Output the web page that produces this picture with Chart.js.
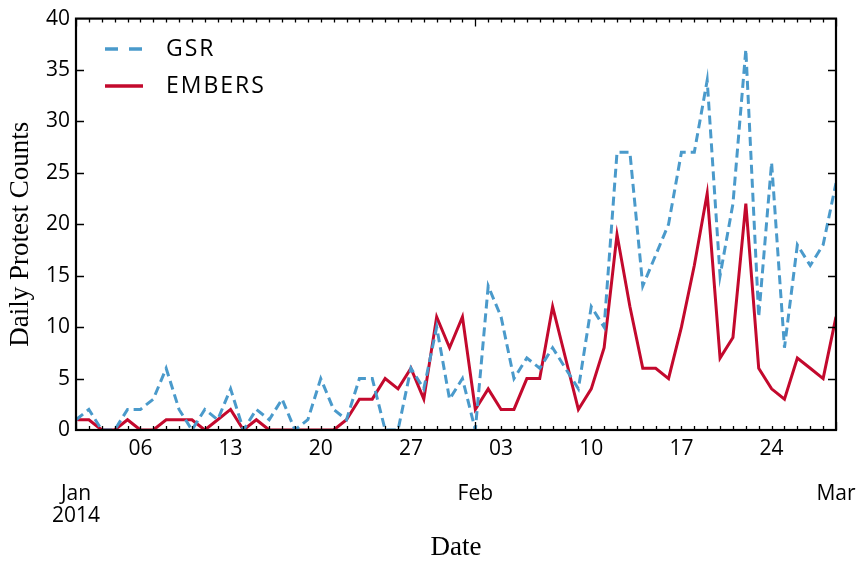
<!DOCTYPE html>
<html>
<head>
<meta charset="utf-8">
<script src="https://cdn.jsdelivr.net/npm/chart.js@4.4.1/dist/chart.umd.min.js"></script>
<style>
  html, body { margin: 0; padding: 0; background: #fff; }
  #wrap { width: 858px; height: 563px; position: relative; }
</style>
</head>
<body>
<div id="wrap"><canvas id="protestChart"></canvas></div>
<script>
// Daily protest counts, 1 Jan 2014 .. 1 Mar 2014 (one value per day)
const gsrCounts = [
  1, 2, 0, 0, 2, 2, 3, 6, 2, 0,
  2, 1, 4, 0, 2, 1, 3, 0, 1, 5,
  2, 1, 5, 5, 0, 0, 6, 4, 10, 3,
  5, 0, 14, 11, 5, 7, 6, 8, 6, 4,
  12, 10, 27, 27, 14, 17, 20, 27, 27, 34,
  15, 22, 37, 11, 26, 8, 18, 16, 18, 24
];
const embersCounts = [
  1, 1, 0, 0, 1, 0, 0, 1, 1, 1,
  0, 1, 2, 0, 1, 0, 0, 0, 0, 0,
  0, 1, 3, 3, 5, 4, 6, 3, 11, 8,
  11, 2, 4, 2, 2, 5, 5, 12, 7, 2,
  4, 8, 19, 12, 6, 6, 5, 10, 16, 23,
  7, 9, 22, 6, 4, 3, 7, 6, 5, 11
];
// day index (0 = Jan 1) for each value
const dayIndex = gsrCounts.map((_, i) => i);

// weekly tick labels (Mondays) and month labels
const weekTickDays = [5, 12, 19, 26, 33, 40, 47, 54];
const weekTickLabels = ['06', '13', '20', '27', '03', '10', '17', '24'];
const monthTickDays = [0, 31, 59];
const monthTickLabels = [['Jan', '2014'], 'Feb', 'Mar'];

const seriesNames = ['GSR', 'EMBERS'];
const yTitle = 'Daily Protest Counts';
const gsrColor = '#4a9acb';
const embersColor = '#c3092d';

const tickFont = { family: "'Open Sans', sans-serif", size: 21 };

// frame, inward tick marks, y title and the legend
const framePlugin = {
  id: 'frame',
  afterDraw(chart) {
    const ctx = chart.ctx;
    const a = chart.chartArea;
    const xs = chart.scales.x;
    const ys = chart.scales.y;
    ctx.save();
    ctx.strokeStyle = '#000';
    ctx.lineWidth = 1.3;
    ctx.beginPath();
    for (let d = 0; d <= 59; d++) {
      const px = Math.round(xs.getPixelForValue(d)) + 0.5;
      const len = monthTickDays.includes(d) ? 8 : 4;
      ctx.moveTo(px, a.bottom); ctx.lineTo(px, a.bottom - len);
      ctx.moveTo(px, a.top); ctx.lineTo(px, a.top + len);
    }
    for (let v = 5; v < 40; v += 5) {
      const py = Math.round(ys.getPixelForValue(v)) + 0.5;
      ctx.moveTo(a.left, py); ctx.lineTo(a.left + 8, py);
      ctx.moveTo(a.right, py); ctx.lineTo(a.right - 8, py);
    }
    ctx.stroke();
    ctx.lineWidth = 2.2;
    ctx.strokeRect(a.left, a.top, a.right - a.left, a.bottom - a.top);

    // y axis title
    ctx.save();
    ctx.translate(21, (a.top + a.bottom) / 2 + 10);
    ctx.rotate(-Math.PI / 2);
    ctx.font = "27px 'Liberation Serif', 'Times New Roman', serif";
    ctx.fillStyle = '#000';
    ctx.textAlign = 'center';
    ctx.textBaseline = 'middle';
    ctx.fillText(yTitle, 0, 0);
    ctx.restore();

    // legend
    const rows = [
      { y: 49, color: gsrColor, dash: [13, 11] },
      { y: 86, color: embersColor, dash: [] }
    ];
    ctx.font = "23px 'Open Sans', sans-serif";
    ctx.textBaseline = 'middle';
    ctx.textAlign = 'left';
    rows.forEach((r, i) => {
      ctx.strokeStyle = r.color;
      ctx.lineWidth = 3.5;
      ctx.setLineDash(r.dash);
      ctx.beginPath();
      ctx.moveTo(105, r.y);
      ctx.lineTo(143, r.y);
      ctx.stroke();
      ctx.setLineDash([]);
      ctx.fillStyle = '#000';
      ctx.letterSpacing = '2px';
      ctx.fillText(seriesNames[i], 166, r.y);
    });
    ctx.restore();
  }
};

new Chart(document.getElementById('protestChart'), {
  type: 'line',
  data: {
    labels: dayIndex,
    datasets: [
      {
        label: seriesNames[0],
        data: gsrCounts,
        borderColor: gsrColor,
        borderWidth: 3,
        borderDash: [9, 5],
        pointRadius: 0,
        tension: 0,
        fill: false
      },
      {
        label: seriesNames[1],
        data: embersCounts,
        borderColor: embersColor,
        borderWidth: 3,
        pointRadius: 0,
        tension: 0,
        fill: false
      }
    ]
  },
  options: {
    responsive: true,
    maintainAspectRatio: false,
    animation: false,
    devicePixelRatio: 1,
    layout: { padding: { left: 0, right: 22, top: 17, bottom: 0 } },
    plugins: {
      legend: { display: false },
      tooltip: { enabled: false }
    },
    scales: {
      x: {
        type: 'linear',
        position: 'bottom',
        weight: 0,
        min: 0,
        max: 59,
        grid: { display: false, drawTicks: false },
        border: { display: false },
        afterBuildTicks: (scale) => {
          scale.ticks = weekTickDays.map(v => ({ value: v }));
        },
        afterFit: (scale) => {
          scale.height = 40;
          scale.paddingLeft = 0;
          scale.paddingRight = 0;
        },
        ticks: {
          autoSkip: false,
          maxRotation: 0,
          padding: 6,
          color: '#000',
          font: tickFont,
          callback: (value) => weekTickLabels[weekTickDays.indexOf(value)]
        }
      },
      x2: {
        type: 'linear',
        position: 'bottom',
        weight: 1,
        min: 0,
        max: 59,
        grid: { display: false, drawTicks: false },
        border: { display: false },
        afterBuildTicks: (scale) => {
          scale.ticks = monthTickDays.map(v => ({ value: v }));
        },
        afterFit: (scale) => {
          scale.height = 93;
          scale.paddingLeft = 0;
          scale.paddingRight = 0;
        },
        ticks: {
          autoSkip: false,
          maxRotation: 0,
          padding: 13,
          color: '#000',
          font: { family: "'Open Sans', sans-serif", size: 21, lineHeight: 1.05 },
          callback: (value) => monthTickLabels[monthTickDays.indexOf(value)]
        },
        title: {
          display: true,
          text: 'Date',
          color: '#000',
          padding: { top: 0, bottom: 0 },
          font: { family: "'Liberation Serif', 'Times New Roman', serif", size: 27, lineHeight: 1.1 }
        }
      },
      y: {
        min: 0,
        max: 40,
        grid: { display: false, drawTicks: false },
        border: { display: false },
        afterFit: (scale) => { scale.width = 76; },
        ticks: {
          stepSize: 5,
          padding: 6,
          color: '#000',
          font: tickFont
        }
      }
    }
  },
  plugins: [framePlugin]
});
</script>
</body>
</html>
